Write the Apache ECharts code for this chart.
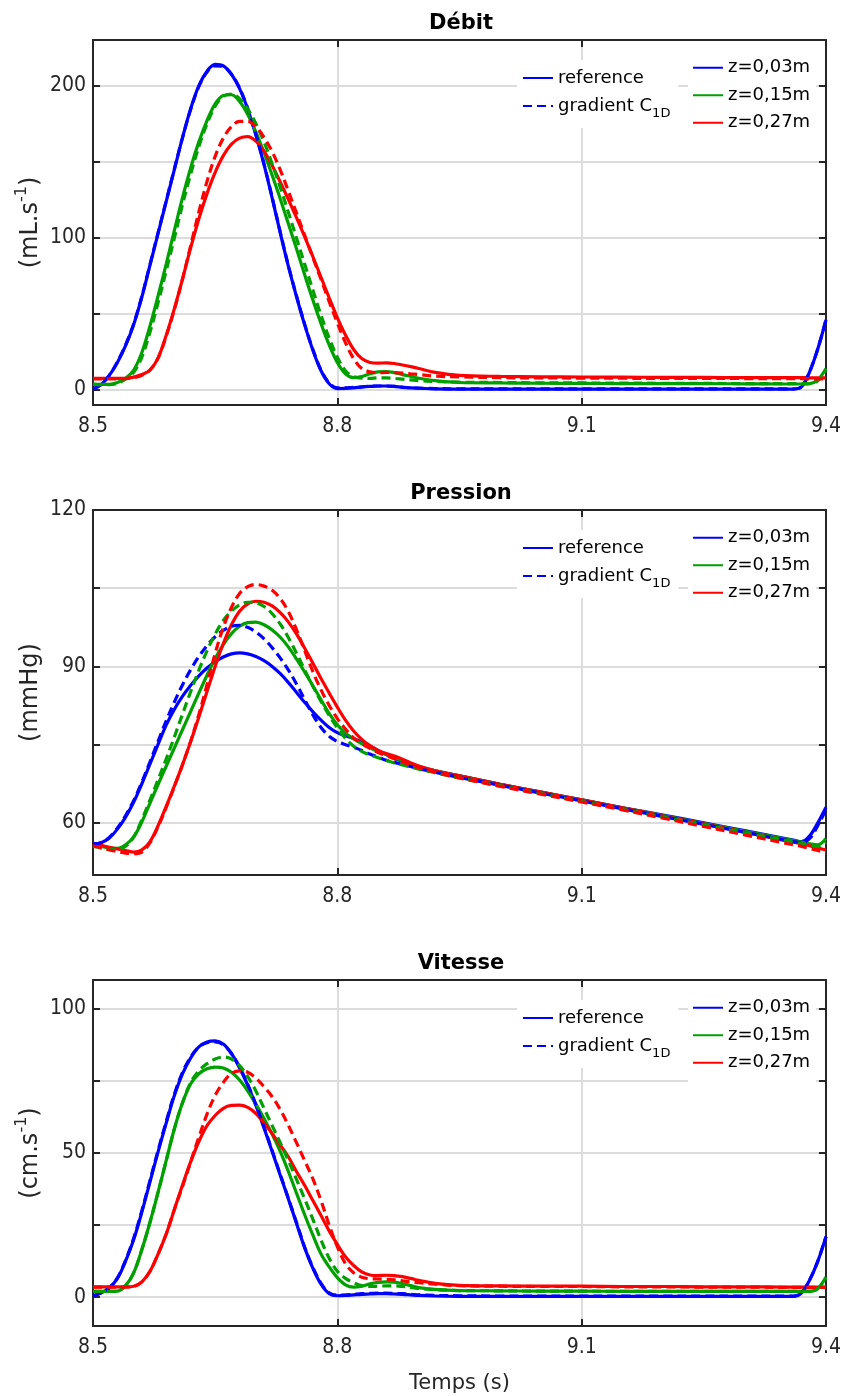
<!DOCTYPE html>
<html><head><meta charset="utf-8">
<script src="https://cdn.jsdelivr.net/npm/echarts@6/dist/echarts.min.js"></script>
<style>html,body{margin:0;padding:0;background:#fff}#chart{width:844px;height:1396px}</style>
</head><body><div id="chart"></div>
<script>
// ---------- DATA ----------
const times = [
 8.50, 8.51, 8.52, 8.53, 8.54, 8.55, 8.56, 8.57, 8.58, 8.59,
 8.60, 8.61, 8.62, 8.63, 8.64, 8.65, 8.66, 8.67, 8.68, 8.69,
 8.70, 8.71, 8.72, 8.73, 8.74, 8.75, 8.76, 8.77, 8.78, 8.79,
 8.80, 8.81, 8.82, 8.83, 8.84, 8.85, 8.86, 8.87, 8.88, 8.89,
 8.90, 8.92, 8.95, 9.00, 9.05, 9.10, 9.15, 9.20, 9.25, 9.30,
 9.35, 9.36, 9.37, 9.38, 9.39, 9.40];

// Débit (mL/s)
const debitRef03 = [
 0.5, 3.5, 9.5, 18, 29, 43, 61, 82, 103, 124,
 145, 166, 185, 200, 209.5, 214, 213, 207.5, 198, 184.5,
 167.5, 148, 126, 103, 81, 61, 42.5, 26, 12.5, 4,
 0.8, 0.9, 1.3, 1.8, 2.2, 2.5, 2.5, 2.2, 1.6, 1.2,
 1.0, 0.6, 0.5, 0.5, 0.5, 0.5, 0.5, 0.5, 0.5, 0.5,
 0.5, 0.5, 2, 12, 27, 46];
const debitGrad03 = [
 0.5, 3.5, 9.5, 18.5, 29.5, 43.5, 61.5, 82.5, 103.5, 124.5,
 145.5, 166, 184.5, 199.5, 209, 213, 212.5, 207.5, 198.5, 185,
 168, 148.5, 126.5, 103.5, 81.5, 61.5, 43, 26.5, 13, 4.5,
 1.2, 1.2, 1.6, 2, 2.3, 2.5, 2.5, 2.2, 1.7, 1.3,
 1.1, 0.8, 0.6, 0.6, 0.6, 0.6, 0.6, 0.6, 0.6, 0.6,
 0.6, 0.6, 2, 12, 27, 46];
const debitRef15 = [
 3.8, 3.6, 3.6, 4.8, 7.5, 13, 24.5, 42, 62, 83,
 105, 126.5, 146, 163, 177, 188, 193.5, 194, 189.5, 181,
 169.5, 156, 141, 125.5, 109, 92.5, 75.5, 59, 43.5, 29.5,
 18, 10.5, 8, 8.7, 10.5, 11.8, 12, 11.3, 10, 8.8,
 7.6, 6, 4.8, 4.5, 4.3, 4.2, 4.1, 4, 4, 3.9,
 3.8, 3.8, 3.8, 4, 6.5, 14];
const debitGrad15 = [
 3.5, 3.3, 3.3, 4.3, 7, 11.5, 21.5, 38, 57.5, 78.5,
 100, 122, 142, 160, 175, 186.5, 193, 194.5, 191.5, 184.5,
 175, 163, 148.5, 133, 116.5, 99.5, 82.5, 65.5, 49, 34,
 21.5, 12.5, 8.7, 7.6, 7.5, 7.8, 7.8, 7.5, 7, 6.5,
 6, 5.5, 5, 4.8, 4.6, 4.5, 4.4, 4.3, 4.2, 4.1,
 4, 4, 4, 4, 6, 13];
const debitRef27 = [
 7.5, 7.5, 7.5, 7.5, 7.6, 8.3, 10, 13, 21, 36,
 53.5, 73, 93.5, 112.5, 129, 143, 154, 161.5, 165.5, 166.5,
 163.5, 157, 147.5, 136.5, 125, 113, 100.5, 87.5, 74, 60.5,
 47.5, 36, 26.5, 20.5, 18, 17.5, 17.7, 17.3, 16.3, 15.2,
 14, 11.5, 9.5, 8.8, 8.5, 8.4, 8.3, 8.2, 8.1, 8,
 8, 8, 8, 7.9, 7.8, 7.8];
const debitGrad27 = [
 7.2, 7.2, 7.2, 7.2, 7.3, 8, 9.5, 13, 21, 35.5,
 53, 73, 95, 117, 137, 153.5, 165.5, 173, 176.5, 176.5,
 173, 166, 156.5, 144.5, 130.5, 116, 101.5, 87, 72.5, 58,
 44, 31, 20.5, 14, 11.8, 11.3, 11.4, 11.3, 11, 10.5,
 10, 9, 8.5, 8, 7.8, 7.7, 7.6, 7.5, 7.5, 7.4,
 7.3, 7.3, 7.3, 7.2, 7.2, 7.2];

// Pression (mmHg)
const presRef03 = [
 56, 56.2, 57.1, 58.8, 61.1, 64, 67.5, 71.3, 75.1, 78.8,
 81.8, 84.3, 86.4, 88.2, 89.7, 90.9, 91.8, 92.4, 92.6, 92.4,
 91.9, 91.1, 90, 88.6, 86.9, 85, 83.1, 81.3, 79.7, 78.3,
 77.3, 76.7, 76.2, 75.5, 74.7, 73.9, 73.1, 72.4, 71.8, 71.2,
 70.7, 70, 69, 67.4, 65.9, 64.4, 62.9, 61.5, 60, 58.5,
 57, 56.7, 56.4, 57.5, 60, 63];
const presGrad03 = [
 56, 56.2, 57.2, 59, 61.4, 64.3, 67.8, 71.7, 75.7, 79.6,
 83.2, 86.5, 89.4, 91.9, 94, 95.7, 96.9, 97.7, 97.9, 97.5,
 96.6, 95.3, 93.6, 91.6, 89.3, 86.6, 83.6, 80.7, 78.3, 76.6,
 75.6, 75, 74.5, 73.9, 73.2, 72.6, 72, 71.6, 71.2, 70.8,
 70.4, 69.7, 68.7, 67.2, 65.7, 64.2, 62.7, 61.2, 59.7, 58.2,
 56.7, 56.4, 56.2, 57, 59.5, 62.5];
const presRef15 = [
 55.8, 55.5, 55.2, 55.1, 55.8, 57.3, 60.2, 63.8, 67.4, 70.9,
 74.4, 77.9, 81.4, 84.9, 88.3, 91.5, 94.2, 96.3, 97.7, 98.4,
 98.5, 98, 97, 95.6, 93.7, 91.4, 88.9, 86.3, 83.6, 81,
 78.8, 77.2, 76.1, 75.2, 74.4, 73.7, 73.1, 72.5, 71.9, 71.3,
 70.8, 70, 69, 67.4, 65.9, 64.4, 62.9, 61.4, 59.9, 58.4,
 56.9, 56.6, 56.3, 56, 55.8, 57];
const presGrad15 = [
 55.5, 55.2, 54.9, 54.8, 55.5, 57.3, 60.6, 64.4, 68.3, 72.3,
 76.5, 80.9, 85.2, 89.3, 93, 96.2, 98.8, 100.6, 101.8, 102.3,
 102.2, 101.5, 100.1, 98.1, 95.5, 92.5, 89.3, 86.2, 83.3, 80.6,
 78.2, 76.2, 74.7, 73.7, 73, 72.5, 72, 71.5, 71.1, 70.7,
 70.3, 69.6, 68.6, 67.1, 65.6, 64.1, 62.6, 61.1, 59.6, 58.1,
 56.6, 56.3, 56, 55.7, 55.5, 56.3];
const presRef27 = [
 56.1, 55.7, 55.3, 55, 54.7, 54.4, 54.8, 56.4, 59.5, 63.2,
 67.1, 71.2, 75.6, 80.3, 85.2, 90, 94.4, 98, 100.6, 102,
 102.5, 102.3, 101.6, 100.3, 98.5, 96.2, 93.5, 90.6, 87.7, 84.9,
 82.2, 79.7, 77.6, 76, 74.8, 73.9, 73.3, 72.8, 72.2, 71.5,
 70.9, 70, 69, 67.4, 65.9, 64.4, 62.9, 61.3, 59.8, 58.2,
 56.6, 56.3, 56, 55.6, 55.2, 54.8];
const presGrad27 = [
 55.6, 55.2, 54.8, 54.5, 54.2, 54.1, 54.4, 56.2, 59.3, 63,
 67, 71.2, 75.7, 80.8, 86.5, 92.5, 97.5, 101.3, 104, 105.3,
 105.7, 105.4, 104.6, 103, 100.5, 97, 93, 89, 85.5, 82.5,
 80, 78, 76.3, 75.2, 74.3, 73.5, 72.9, 72.3, 71.7, 71.1,
 70.6, 69.7, 68.6, 67, 65.5, 64, 62.5, 60.9, 59.3, 57.7,
 56.1, 55.8, 55.5, 55.1, 54.7, 54.3];

// Vitesse (cm/s)
const vitRef03 = [
 0.5, 1.5, 3.2, 6.5, 12.5, 20, 29.5, 40, 50.5, 60.5,
 70, 77.5, 83, 86.8, 88.5, 88.9, 87.8, 84.5, 79.5, 73.5,
 66.5, 58.7, 50.5, 42.2, 34, 25.5, 17, 10, 4.5, 1.2,
 0.5, 0.6, 0.8, 1, 1.1, 1.2, 1.2, 1.1, 1, 0.8,
 0.6, 0.4, 0.3, 0.3, 0.3, 0.3, 0.3, 0.3, 0.3, 0.3,
 0.3, 0.3, 1.5, 6, 12.5, 21];
const vitGrad03 = [
 0.5, 1.5, 3.2, 6.7, 12.8, 20.5, 30, 40.5, 51, 61,
 70.5, 78, 83.3, 86.8, 88.3, 88.5, 87.5, 84.5, 79.8, 73.8,
 66.8, 59, 50.8, 42.5, 34.2, 25.8, 17.3, 10.3, 4.8, 1.5,
 0.7, 0.8, 1, 1.2, 1.3, 1.4, 1.4, 1.3, 1.2, 1,
 0.8, 0.6, 0.5, 0.4, 0.4, 0.4, 0.4, 0.4, 0.4, 0.4,
 0.4, 0.4, 1.5, 6, 12.5, 21];
const vitRef15 = [
 2, 2, 2, 2.1, 4, 8.5, 16.5, 26, 36.5, 47.5,
 58.5, 67.5, 74, 77.5, 79.2, 79.8, 79.5, 78, 75.3, 71.5,
 67, 62, 56.5, 50.5, 43.5, 36, 28.5, 21.5, 15, 10.5,
 6.8, 4.3, 3.5, 3.8, 4.6, 5.1, 5.3, 5.2, 4.7, 4,
 3.3, 2.7, 2.3, 2.2, 2.1, 2.1, 2, 2, 2, 2,
 2, 2, 2, 2, 3, 7];
const vitGrad15 = [
 2, 2, 2, 2.1, 4, 8.5, 16.5, 26, 36.5, 47.5,
 58.5, 67.5, 74.5, 78.5, 81, 82.6, 83.3, 82.6, 80.3, 76.5,
 71.5, 65.5, 59.5, 53.5, 47.3, 40.8, 34, 27, 19.8, 13.5,
 9, 6.5, 5, 4, 3.7, 3.8, 3.9, 3.9, 3.7, 3.4,
 3, 2.6, 2.3, 2.2, 2.1, 2.1, 2, 2, 2, 2,
 2, 2, 2, 2, 3, 6.5];
const vitRef27 = [
 3.6, 3.6, 3.6, 3.6, 3.6, 3.8, 5.3, 9, 15, 22,
 30.5, 39, 47, 54, 59.5, 63, 65.5, 66.5, 66.6, 65.8,
 63.7, 60.5, 56.7, 52.7, 48.6, 43.5, 38.7, 33.5, 28.3, 23,
 18.3, 14, 11, 8.8, 7.7, 7.5, 7.6, 7.5, 7.1, 6.5,
 5.8, 4.8, 4.1, 3.9, 3.8, 3.8, 3.7, 3.7, 3.6, 3.6,
 3.5, 3.5, 3.5, 3.5, 3.5, 3.5];
const vitGrad27 = [
 3.5, 3.5, 3.5, 3.5, 3.5, 3.7, 5.3, 9, 15, 22,
 30.5, 38.5, 47, 55.5, 63.5, 70, 74.5, 77.6, 78.5, 78,
 76, 73, 69.5, 65, 59.5, 53.5, 47.3, 41, 33.5, 25,
 17.5, 11.6, 8.5, 6.9, 6.4, 6.3, 6.2, 6, 5.7, 5.3,
 5, 4.5, 4, 3.8, 3.7, 3.7, 3.6, 3.6, 3.5, 3.5,
 3.4, 3.4, 3.4, 3.4, 3.4, 3.4];

// Axis ticks / labels
const xMin = 8.5, xMax = 9.4, xStep = 0.3;
const debitTicks = [0, 50, 100, 150, 200];
const debitLabels = [0, 100, 200];
const presTicks = [60, 75, 90, 105, 120];
const presLabels = [60, 90, 120];
const vitTicks = [0, 25, 50, 75, 100];
const vitLabels = [0, 50, 100];

const zNames = ['z=0,03m', 'z=0,15m', 'z=0,27m'];
const refName = 'reference';
const gradName = 'gradient C1D';

// ---------- CHART ----------
const FONT = 'DejaVu Sans';
const TICKFONT = '"DejaVu Sans Condensed", "DejaVu Sans"';
const AX = '#262626';
const GRIDC = '#dcdcdc';
const COLORS = ['#0000ff', '#00a000', '#ff0000'];
const DASH = [9, 5];

const panels = [
  {title: 'Débit', name: '(mL.s{sup|-1})', min: -10, max: 230, ticks: debitTicks, labels: debitLabels,
   ref: [debitRef03, debitRef15, debitRef27], grad: [debitGrad03, debitGrad15, debitGrad27],
   grid: {left: 93, top: 40, width: 736, height: 365}},
  {title: 'Pression', name: '(mmHg)', min: 50, max: 120, ticks: presTicks, labels: presLabels,
   ref: [presRef03, presRef15, presRef27], grad: [presGrad03, presGrad15, presGrad27],
   grid: {left: 93, top: 510, width: 736, height: 365}},
  {title: 'Vitesse', name: '(cm.s{sup|-1})', min: -10, max: 110, ticks: vitTicks, labels: vitLabels,
   ref: [vitRef03, vitRef15, vitRef27], grad: [vitGrad03, vitGrad15, vitGrad27],
   grid: {left: 93, top: 980, width: 736, height: 346}}
];

function pairs(vals) { return times.map((t, i) => [t, vals[i]]); }

const option = {
  animation: false,
  backgroundColor: '#fff',
  title: [], grid: [], xAxis: [], yAxis: [], series: [], legend: []
};

const axisLineStyle = {color: AX, width: 2};
const tickStyle = {color: AX, width: 2};

panels.forEach((p, k) => {
  option.grid.push(Object.assign({containLabel: false}, p.grid));
  option.title.push({
    text: p.title, left: p.grid.left + p.grid.width / 2, top: p.grid.top - 27, textAlign: 'center', padding: 0,
    textStyle: {fontFamily: FONT, fontSize: 21, fontWeight: 'bold', color: '#000'}
  });
  const xb = {
    type: 'value', gridIndex: k, min: xMin, max: xMax, interval: xStep, position: 'bottom',
    axisLine: {show: true, onZero: false, lineStyle: axisLineStyle},
    axisTick: {show: true, inside: true, length: 7, lineStyle: tickStyle},
    axisLabel: {show: true, color: AX, fontFamily: TICKFONT, fontSize: 21, margin: 11,
      showMinLabel: true, showMaxLabel: true, formatter: v => v.toFixed(1)},
    splitLine: {show: true, lineStyle: {color: GRIDC, width: 2}}
  };
  if (k === 2) {
    xb.name = 'Temps (s)';
    xb.nameLocation = 'middle';
    xb.nameGap = 47;
    xb.nameMoveOverlap = false;
    xb.nameTextStyle = {fontFamily: FONT, fontSize: 21, color: AX};
  }
  option.xAxis.push(xb);
  option.xAxis.push({
    type: 'value', gridIndex: k, min: xMin, max: xMax, interval: xStep, position: 'top',
    axisLine: {show: true, onZero: false, lineStyle: axisLineStyle},
    axisTick: {show: true, inside: true, length: 7, lineStyle: tickStyle},
    axisLabel: {show: false}, splitLine: {show: false}
  });
  option.yAxis.push({
    type: 'value', gridIndex: k, min: p.min, max: p.max, position: 'left',
    axisLine: {show: true, onZero: false, lineStyle: axisLineStyle},
    axisTick: {show: true, inside: true, length: 7, lineStyle: tickStyle, customValues: p.ticks},
    axisLabel: {show: true, color: AX, fontFamily: TICKFONT, fontSize: 21, margin: 7, customValues: p.labels},
    splitLine: {show: true, lineStyle: {color: GRIDC, width: 2}},
    name: p.name, nameLocation: 'middle', nameRotate: 90, nameGap: 45, nameMoveOverlap: false,
    nameTextStyle: {fontFamily: FONT, fontSize: 24, color: AX, lineHeight: 34,
      rich: {sup: {fontFamily: FONT, fontSize: 16, lineHeight: 16, verticalAlign: 'top', color: AX}}}
  });
  option.yAxis.push({
    type: 'value', gridIndex: k, min: p.min, max: p.max, position: 'right',
    axisLine: {show: true, onZero: false, lineStyle: axisLineStyle},
    axisTick: {show: true, inside: true, length: 7, lineStyle: tickStyle, customValues: p.ticks},
    axisLabel: {show: false}, splitLine: {show: false}
  });

  const xi = 2 * k, yi = 2 * k;
  for (let j = 0; j < 3; j++) {
    option.series.push({
      type: 'line', name: zNames[j], xAxisIndex: xi, yAxisIndex: yi, data: pairs(p.ref[j]),
      symbol: 'none', showSymbol: false, smooth: 0.35,
      lineStyle: {color: COLORS[j], width: 3.2, type: 'solid'}, itemStyle: {color: COLORS[j]}, z: 2 + j
    });
  }
  for (let j = 0; j < 3; j++) {
    option.series.push({
      type: 'line', name: j === 0 ? gradName : gradName + ' ' + zNames[j], xAxisIndex: xi, yAxisIndex: yi,
      data: pairs(p.grad[j]),
      symbol: 'none', showSymbol: false, smooth: 0.35,
      lineStyle: {color: COLORS[j], width: 3.2, type: DASH}, itemStyle: {color: COLORS[j]}, z: 5 + j
    });
  }
  if (k === 0) {
    option.series.push({
      type: 'line', name: refName, xAxisIndex: xi, yAxisIndex: yi, data: [],
      symbol: 'none', lineStyle: {color: COLORS[0], width: 3.2, type: 'solid'}, itemStyle: {color: COLORS[0]}
    });
  }

  option.legend.push({
    data: [refName, gradName], orient: 'vertical', left: 517, top: p.grid.top + 20,
    padding: [4, 8, 8, 5], itemGap: 0, itemWidth: 30, itemHeight: 14,
    backgroundColor: '#fff', selectedMode: false,
    itemStyle: {opacity: 0},
    textStyle: {fontFamily: FONT, fontSize: 18, color: '#000', lineHeight: 28,
      rich: {sub: {fontFamily: FONT, fontSize: 13, lineHeight: 13, verticalAlign: 'bottom', color: '#000'}}},
    formatter: n => n === gradName ? 'gradient C{sub|1D}' : n
  });
  option.legend.push({
    data: zNames, orient: 'vertical', left: 688, top: p.grid.top + 11,
    padding: [3, 6, 8, 4], itemGap: 0, itemWidth: 30, itemHeight: 14,
    backgroundColor: '#fff', selectedMode: false,
    itemStyle: {opacity: 0},
    textStyle: {fontFamily: FONT, fontSize: 18, color: '#000', lineHeight: 27.5}
  });
});

const chart = echarts.init(document.getElementById('chart'), null, {renderer: 'canvas'});
chart.setOption(option);
</script>
</body></html>
